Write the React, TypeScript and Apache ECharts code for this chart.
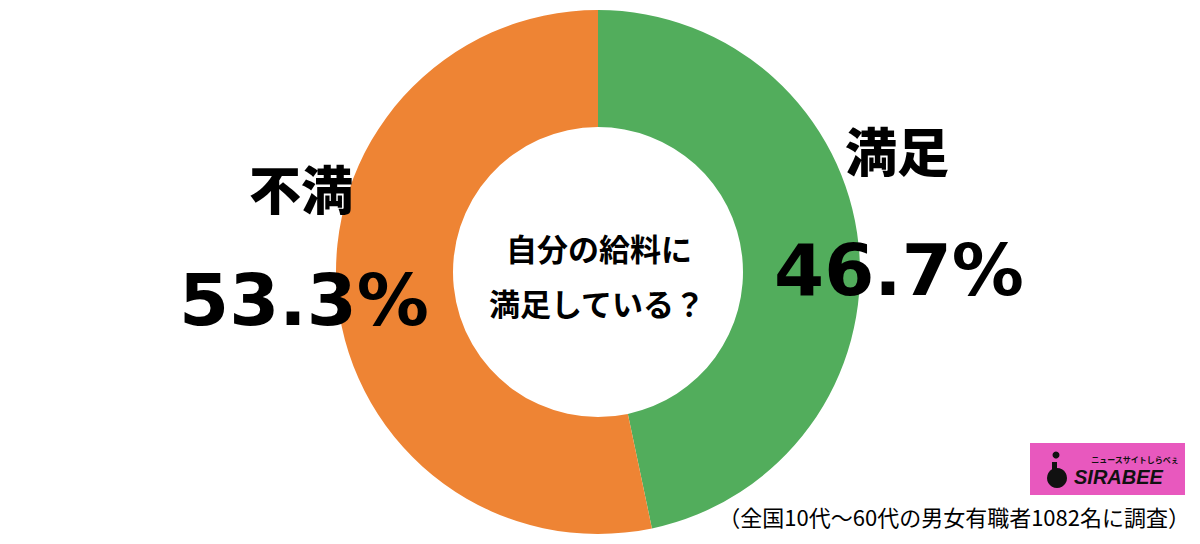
import React, { useEffect, useRef } from "react";
import * as echarts from "echarts";

const categories = ["満足", "不満"];
const values = [46.7, 53.3];
const colors = ["#52ad5c", "#ee8434"];
const questionLines = ["自分の給料に", "満足している？"];
const footnote = "（全国10代～60代の男女有職者1082名に調査）";

export default function App() {
  const ref = useRef<HTMLDivElement>(null);
  useEffect(() => {
    if (!ref.current) return;
    const chart = echarts.init(ref.current, undefined, { renderer: "svg" });
    const jp = "'Noto Sans CJK JP', sans-serif";
    const num = "'DejaVu Sans', sans-serif";
    const txt = (x: number, y: number, text: string, font: string, align = "center") => ({
      type: "text",
      x,
      y,
      z: 100,
      zlevel: 1,
      style: { text, font, fill: "#000", align, verticalAlign: "middle" },
    });
    chart.setOption({
      animation: false,
      backgroundColor: "#ffffff",
      series: [
        {
          type: "pie",
          center: [598, 272],
          radius: [145, 262],
          startAngle: 90,
          clockwise: true,
          silent: true,
          label: { show: false },
          labelLine: { show: false },
          itemStyle: { borderWidth: 0 },
          data: categories.map((c, i) => ({
            name: c,
            value: values[i],
            itemStyle: { color: colors[i] },
          })),
        },
      ],
      graphic: [
        txt(897, 149, categories[0], `900 52px ${jp}`),
        txt(899, 270, values[0].toFixed(1) + "%", `bold 72px ${num}`),
        txt(301, 187, categories[1], `900 52px ${jp}`),
        txt(304, 300, values[1].toFixed(1) + "%", `bold 72px ${num}`),
        txt(599, 247, questionLines[0], `bold 31px ${jp}`),
        txt(597, 302, questionLines[1], `bold 31px ${jp}`),
        txt(1190, 516, footnote, `22px ${jp}`, "right"),
        {
          type: "group",
          zlevel: 1,
          children: [
            {
              type: "rect",
              shape: { x: 1030, y: 443, width: 155, height: 52 },
              style: { fill: "#e858be" },
            },
            {
              type: "circle",
              shape: { cx: 1057, cy: 478, r: 10 },
              style: { fill: "#111" },
            },
            {
              type: "rect",
              shape: { x: 1052, y: 462, width: 5, height: 14 },
              style: { fill: "#111" },
            },
            {
              type: "circle",
              shape: { cx: 1056, cy: 455, r: 3.5 },
              style: { fill: "#111" },
            },
            {
              type: "text",
              x: 1074,
              y: 477,
              style: {
                text: "SIRABEE",
                font: `italic bold 20px 'Liberation Sans', sans-serif`,
                fill: "#111",
                align: "left",
                verticalAlign: "middle",
              },
            },
            {
              type: "text",
              x: 1135,
              y: 459,
              style: {
                text: "ニュースサイトしらべぇ",
                font: `bold 8px ${jp}`,
                fill: "#111",
                align: "center",
                verticalAlign: "middle",
              },
            },
          ],
        },
      ],
    });
    return () => chart.dispose();
  }, []);
  return (
    <div
      ref={ref}
      style={{ position: "absolute", left: 0, top: 0, width: 1200, height: 544 }}
    />
  );
}
